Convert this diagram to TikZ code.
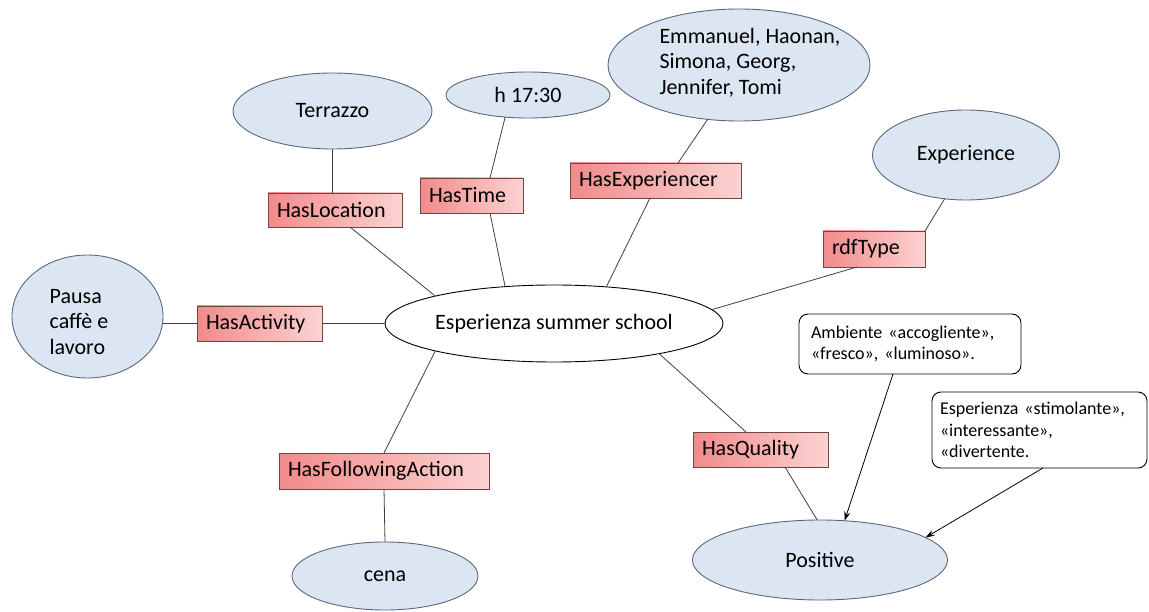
\documentclass[tikz,border=0pt]{standalone}
\usepackage{fontspec}
\setmainfont{Carlito}
\usetikzlibrary{shapes.geometric,arrows.meta}
\definecolor{ellfill}{RGB}{220,230,242}
\definecolor{ellline}{RGB}{90,104,125}
\definecolor{relline}{RGB}{110,70,70}
\definecolor{relleft}{RGB}{242,138,138}
\definecolor{relright}{RGB}{252,210,210}
\tikzset{
  big/.style={font=\fontsize{22}{25.5}\selectfont},
  cls/.style={ellipse, draw=ellline, fill=ellfill, line width=0.9pt, inner sep=0pt, outer sep=0pt, big, align=left},
  main/.style={ellipse, draw=black, fill=white, line width=0.9pt, inner sep=0pt, outer sep=0pt, big},
  rel/.style={rectangle, draw=relline, line width=0.9pt, left color=relleft, right color=relright, inner xsep=9pt, inner ysep=0pt, outer sep=0pt, big, align=left},
  note/.style={rectangle, rounded corners=9pt, draw=black, fill=white, line width=0.9pt, outer sep=0pt, font=\fontsize{18}{21.7}\selectfont, align=left},
  conn/.style={draw=black!75, line width=0.8pt},
  arr/.style={draw=black, line width=0.8pt, -{Stealth[length=9pt,width=6pt]}}
}
\begin{document}
\begin{tikzpicture}[x=1pt,y=-1pt]
\useasboundingbox (0,0) rectangle (1149,612);
% main node
\node[main, minimum width=338pt, minimum height=77pt] (c) at (554,323.5) {Esperienza summer school};
% class ellipses
\node[cls, minimum width=199pt, minimum height=76pt] (ter) at (332.5,111) {Terrazzo};
\node[cls, minimum width=164pt, minimum height=46pt] (tim) at (528,95) {h 17:30};
\node[cls, minimum width=262pt, minimum height=112pt] (emm) at (739,65) {};
\node[big, align=left, inner sep=0pt] (emmt) at (750,62.5) {Emmanuel, Haonan,\\Simona, Georg,\\Jennifer, Tomi};
\node[cls, minimum width=187pt, minimum height=90pt] (exp) at (966,155) {Experience};
\node[cls, minimum width=151pt, minimum height=123pt] (pau) at (87.5,316.5) {};
\node[big, align=left, inner sep=0pt] (paut) at (79,322) {Pausa\\caffè e\\lavoro};
\node[cls, minimum width=186pt, minimum height=68pt] (cen) at (385,576) {cena};
\node[cls, minimum width=255pt, minimum height=80pt] (pos) at (820,560) {Positive};
% relation boxes
\node[rel, text width=116pt, minimum height=34pt] (hl) at (335,210) {HasLocation};
\node[rel, text width=85pt, minimum height=35pt] (ht) at (471.5,195.5) {HasTime};
\node[rel, text width=153pt, minimum height=35pt] (he) at (655.5,180.5) {HasExperiencer};
\node[rel, text width=84pt, minimum height=36pt] (rt) at (874,249) {rdfType};
\node[rel, text width=107pt, minimum height=35pt] (ha) at (259.5,323.5) {HasActivity};
\node[rel, text width=192pt, minimum height=36pt] (hf) at (384,471) {HasFollowingAction};
\node[rel, text width=117pt, minimum height=35pt] (hq) at (760.5,449.5) {HasQuality};
% notes
\node[note, minimum height=60pt, text width=198pt, inner xsep=12pt] (n1) at (910,344) {Ambiente «accogliente»,\\«fresco», «luminoso».};
\node[note, minimum height=76pt, text width=199pt, inner xsep=8pt] (n2) at (1039.5,430) {Esperienza «stimolante»,\\«interessante»,\\«divertente.};
% connectors
\draw[conn] (ter.south) -- (ter.south |- hl.north);
\draw[conn] ([xshift=15pt]hl.south) -- (c.167);
\draw[conn] (tim.224) -- ([xshift=18.5pt]ht.north);
\draw[conn] ([xshift=18.5pt]ht.south) -- (c.143);
\draw[conn] (emm.240) -- ([xshift=22.5pt]he.north);
\draw[conn] ([xshift=-5.5pt]he.south) -- (c.35);
\draw[conn] (exp.244) -- (rt.north east);
\draw[conn] ([xshift=-17pt]rt.south) -- (c.5);
\draw[conn] (ha.west -| pau.east) -- (ha.west);
\draw[conn] (ha.east) -- (c.west);
\draw[conn] (hf.north) -- (c.193);
\draw[conn] (hf.south) -- (cen.north);
\draw[conn] ([xshift=-14.5pt]hq.north) -- (c.344);
\draw[conn] ([xshift=24.5pt]hq.south) -- (pos.94);
\draw[arr] ([xshift=-17pt]n1.south) -- (pos.58);
\draw[arr] ([xshift=3.5pt]n2.south) -- (pos.12);
\end{tikzpicture}
\end{document}
